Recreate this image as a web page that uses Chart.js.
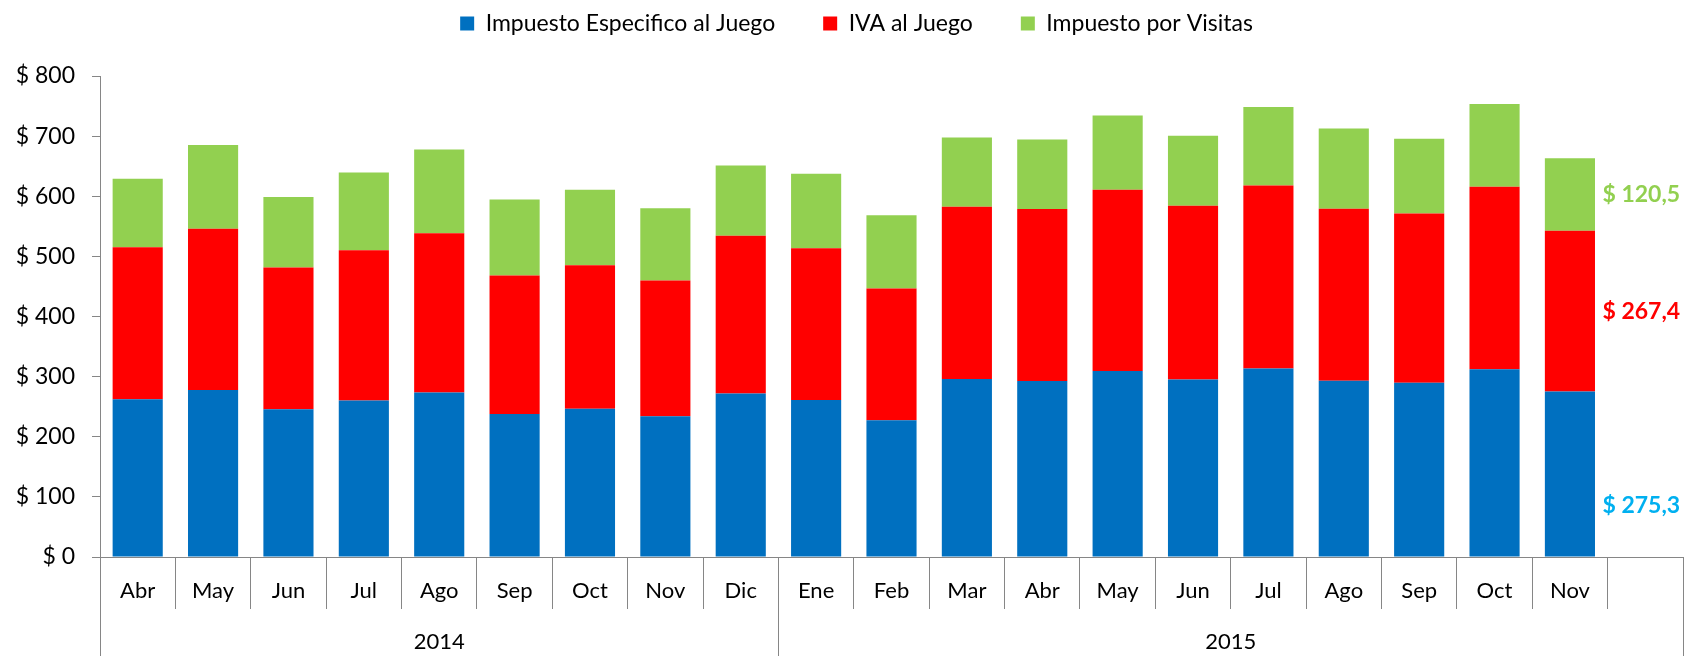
<!DOCTYPE html>
<html>
<head>
<meta charset="utf-8">
<script src="https://cdn.jsdelivr.net/npm/chart.js@4.4.1/dist/chart.umd.min.js"></script>
<style>
  html, body { margin: 0; padding: 0; background: #fff; }
  #wrap { width: 1691px; height: 656px; }
</style>
</head>
<body>
<div id="wrap"><canvas id="taxChart"></canvas></div>
<script>
var months = ['Abr', 'May', 'Jun', 'Jul', 'Ago', 'Sep', 'Oct', 'Nov', 'Dic',
              'Ene', 'Feb', 'Mar', 'Abr', 'May', 'Jun', 'Jul', 'Ago', 'Sep', 'Oct', 'Nov', ''];
var yearLabels = ['2014', '2015'];
var yearSpans = [9, 12];

var especifico = [262.5, 277.6, 245.7, 260.2, 273.6, 237.8, 246.7, 234.0, 271.9,
                  261.3, 227.3, 296.1, 292.7, 309.5, 295.4, 313.4, 293.2, 289.9, 312.2, 275.3, null];
var iva = [252.8, 268.5, 236.0, 250.0, 264.7, 230.5, 238.4, 225.9, 262.5,
           252.3, 219.2, 286.3, 285.9, 301.5, 288.7, 304.3, 285.9, 281.4, 303.8, 267.4, null];
var visitas = [113.7, 139.3, 117.0, 129.3, 139.3, 126.5, 125.9, 120.3, 116.8,
               123.7, 122.0, 115.3, 115.8, 123.1, 116.4, 130.9, 133.7, 124.2, 137.6, 120.5, null];

var axisGray = '#868686';
var fontName = 'Lato, "Open Sans", sans-serif';

// push the plot down below the legend, and nudge the legend a bit right
var legendGap = {
    id: 'legendGap',
    beforeInit: function (chart) {
        var lg = chart.legend;
        var fit = lg.fit;
        var draw = lg.draw;
        lg.fit = function () {
            fit.call(this);
            this.height += 31;
        };
        lg.draw = function () {
            this.ctx.save();
            this.ctx.translate(15, 0);
            draw.call(this);
            this.ctx.restore();
        };
    }
};

// second row of the x axis: year groups
var yearAxis = {
    id: 'yearAxis',
    afterDraw: function (chart) {
        var ctx = chart.ctx, x = chart.scales.x, area = chart.chartArea;
        var half = (x.getPixelForValue(1) - x.getPixelForValue(0)) / 2;
        var start = 0;
        ctx.save();
        ctx.strokeStyle = axisGray;
        ctx.lineWidth = 1;
        ctx.fillStyle = '#000';
        ctx.font = '22px ' + fontName;
        ctx.textAlign = 'center';
        ctx.textBaseline = 'middle';
        for (var i = 0; i < yearSpans.length; i++) {
            var left = x.getPixelForValue(start) - half;
            var right = x.getPixelForValue(start + yearSpans[i] - 1) + half;
            ctx.beginPath();
            ctx.moveTo(Math.round(left) + 0.5, area.bottom);
            ctx.lineTo(Math.round(left) + 0.5, chart.height);
            if (i === yearSpans.length - 1) {
                ctx.moveTo(Math.round(right) + 0.5, area.bottom);
                ctx.lineTo(Math.round(right) + 0.5, chart.height);
            }
            ctx.stroke();
            ctx.fillText(yearLabels[i], (left + right) / 2, area.bottom + 85);
            start += yearSpans[i];
        }
        ctx.restore();
    }
};

// value labels for the latest month, in the empty slot after it
var endLabels = {
    id: 'endLabels',
    afterDatasetsDraw: function (chart) {
        var ctx = chart.ctx, x = chart.scales.x, y = chart.scales.y;
        var last = especifico.filter(function (v) { return v !== null; }).length - 1;
        var xp = x.getPixelForValue(last + 1) - 4;
        var base = 0;
        ctx.save();
        ctx.font = 'bold 23px ' + fontName;
        ctx.textAlign = 'center';
        ctx.textBaseline = 'middle';
        chart.data.datasets.forEach(function (ds) {
            var v = ds.data[last];
            ctx.fillStyle = ds.labelColor;
            ctx.fillText('$ ' + v.toFixed(1).replace('.', ','), xp, y.getPixelForValue(base + v * ds.labelAt));
            base += v;
        });
        ctx.restore();
    }
};

var ctx = document.getElementById('taxChart').getContext('2d');
var taxChart = new Chart(ctx, {
    type: 'bar',
    data: {
        labels: months,
        datasets: [{
            label: 'Impuesto Especifico al Juego',
            data: especifico,
            backgroundColor: '#0070C0',
            labelColor: '#00B0F0',
            labelAt: 0.31
        }, {
            label: 'IVA al Juego',
            data: iva,
            backgroundColor: '#FF0000',
            labelColor: '#FF0000',
            labelAt: 0.5
        }, {
            label: 'Impuesto por Visitas',
            data: visitas,
            backgroundColor: '#92D050',
            labelColor: '#92D050',
            labelAt: 0.5
        }]
    },
    options: {
        responsive: true,
        maintainAspectRatio: false,
        animation: false,
        layout: {
            padding: { top: -36, right: 8, bottom: 0, left: 0 }
        },
        datasets: {
            bar: {
                barPercentage: 0.665,
                categoryPercentage: 1
            }
        },
        plugins: {
            legend: {
                position: 'top',
                labels: {
                    boxWidth: 14,
                    boxHeight: 14,
                    padding: 48,
                    color: '#000',
                    font: { family: fontName, size: 23 }
                }
            },
            tooltip: { enabled: false }
        },
        scales: {
            x: {
                stacked: true,
                border: { color: axisGray },
                grid: {
                    drawOnChartArea: false,
                    color: axisGray,
                    tickLength: 52
                },
                ticks: {
                    color: '#000',
                    padding: -31,
                    autoSkip: false,
                    maxRotation: 0,
                    font: { family: fontName, size: 22 }
                },
                afterFit: function (scale) { scale.height = 99; }
            },
            y: {
                stacked: true,
                min: 0,
                max: 800,
                border: { color: axisGray },
                grid: {
                    drawOnChartArea: false,
                    color: axisGray,
                    tickLength: 8
                },
                ticks: {
                    stepSize: 100,
                    color: '#000',
                    padding: 17,
                    font: { family: fontName, size: 23 },
                    callback: function (v) { return '$ ' + v; }
                },
                afterFit: function (scale) { scale.width = 100; }
            }
        }
    },
    plugins: [legendGap, yearAxis, endLabels]
});
</script>
</body>
</html>
